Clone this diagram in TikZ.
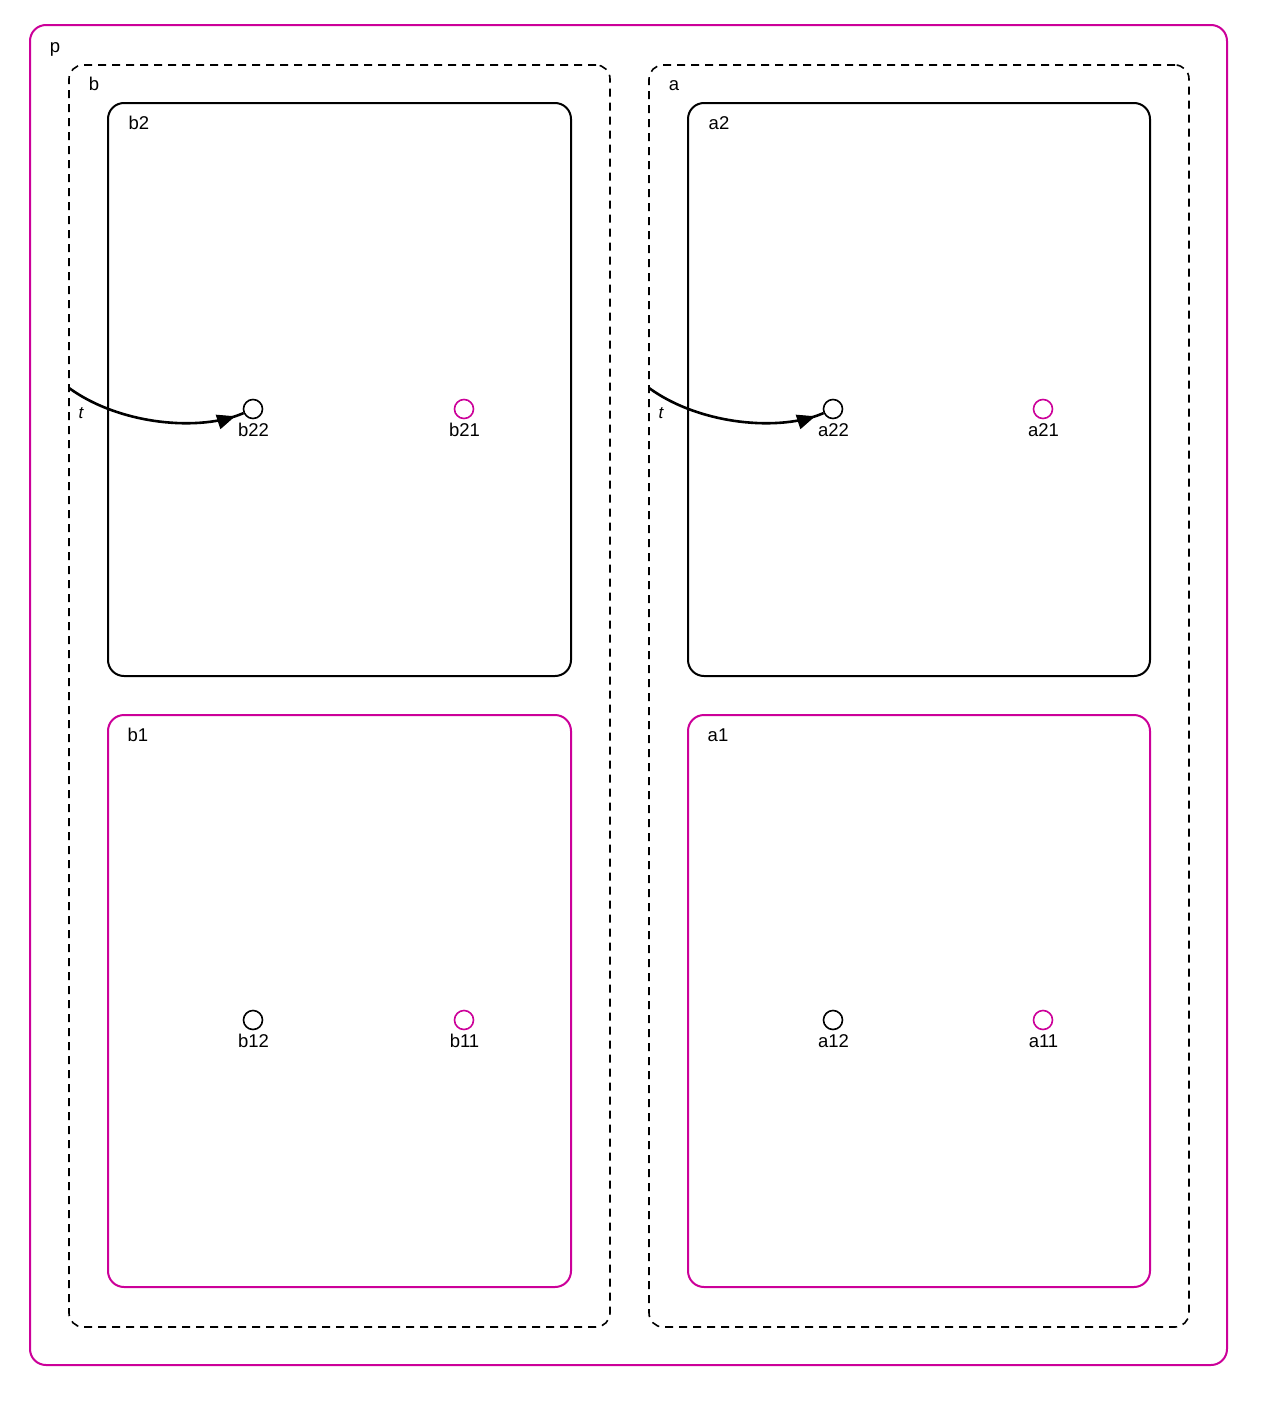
\documentclass[tikz,border=0pt]{standalone}
\usepackage{fontspec}
\setmainfont{Liberation Sans}
\usetikzlibrary{arrows.meta,decorations.markings}
\definecolor{mag}{RGB}{204,0,153}
\begin{document}
\begin{tikzpicture}[x=1pt,y=-1pt,
  every node/.style={font=\fontsize{18.5}{22}\selectfont},
  box/.style={draw, line width=2pt, rounded corners=16pt, inner sep=0pt},
  magbox/.style={box, draw=mag},
  dbox/.style={draw, line width=1.6pt, rounded corners=14pt, inner sep=0pt, dash pattern=on 8pt off 6pt},
  st/.style={circle, draw, line width=1.6pt, minimum size=19pt, inner sep=0pt},
  magst/.style={st, draw=mag},
  lbl/.style={inner sep=0pt, anchor=base},
  trans/.style={line width=2.6pt, postaction={decorate},
    decoration={markings, mark=at position -9pt with {\arrow[line width=1pt]{Triangle[length=18pt,width=15pt]}}}}]
\useasboundingbox[fill=white] (0,0) rectangle (1276,1416);
% outer p
\node[magbox, minimum width=1197pt, minimum height=1340pt] (p) at (628.5,695) {};
\node[lbl] (pl) at (55,52) {p};
% b region
\node[dbox, minimum width=541pt, minimum height=1262pt] (b) at (339.5,696) {};
\node[lbl] (bl) at (94,90) {b};
\node[box, minimum width=463pt, minimum height=573pt] (b2) at (339.5,389.5) {};
\node[lbl] (b2l) at (139,129) {b2};
\node[magbox, minimum width=463pt, minimum height=572pt] (b1) at (339.5,1001) {};
\node[lbl] (b1l) at (138,741) {b1};
% a region
\node[dbox, minimum width=540pt, minimum height=1262pt] (a) at (919,696) {};
\node[lbl] (al) at (674,90) {a};
\node[box, minimum width=462pt, minimum height=573pt] (a2) at (919,389.5) {};
\node[lbl] (a2l) at (719,129) {a2};
\node[magbox, minimum width=462pt, minimum height=572pt] (a1) at (919,1001) {};
\node[lbl] (a1l) at (718,741) {a1};
% states
\node[st] (b22) at (253,409) {};
\node[lbl] (b22l) at (253.5,436) {b22};
\node[magst] (b21) at (464,409) {};
\node[lbl] (b21l) at (464.5,436) {b21};
\node[st] (b12) at (253,1020) {};
\node[lbl] (b12l) at (253.5,1047) {b12};
\node[magst] (b11) at (464,1020) {};
\node[lbl] (b11l) at (464.5,1047) {b11};
\node[st] (a22) at (833,409) {};
\node[lbl] (a22l) at (833.5,436) {a22};
\node[magst] (a21) at (1043,409) {};
\node[lbl] (a21l) at (1043.5,436) {a21};
\node[st] (a12) at (833,1020) {};
\node[lbl] (a12l) at (833.5,1047) {a12};
\node[magst] (a11) at (1043,1020) {};
\node[lbl] (a11l) at (1043.5,1047) {a11};
% transitions
\coordinate (tb) at (69,388);
\coordinate (ta) at (649,388);
\draw[trans] (tb) .. controls (120,425) and (200,432) .. (b22);
\draw[trans] (ta) .. controls (700,425) and (780,432) .. (a22);
\node[font=\fontsize{17}{20}\selectfont\itshape, inner sep=0pt] (tbl) at (81,413) {t};
\node[font=\fontsize{17}{20}\selectfont\itshape, inner sep=0pt] (tal) at (661,413) {t};
\end{tikzpicture}
\end{document}
